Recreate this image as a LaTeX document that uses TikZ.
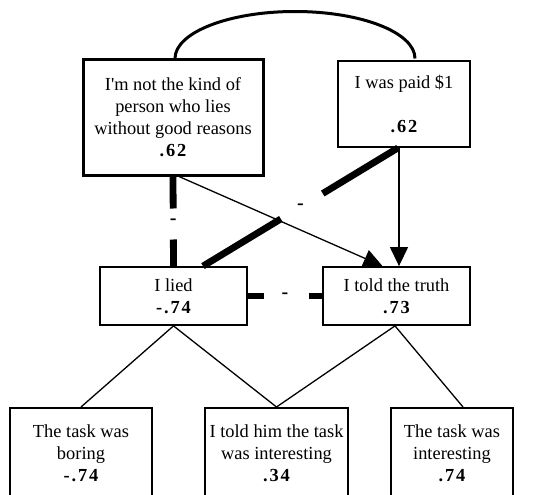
\documentclass[tikz,border=0pt]{standalone}
\usepackage{fontspec}
\setmainfont{Liberation Serif}
\usetikzlibrary{arrows.meta,calc}
\newcommand\numv[1]{{\bfseries\addfontfeature{LetterSpace=10}#1}}
\begin{document}
\begin{tikzpicture}[x=1pt,y=-1pt,
  box/.style={draw, rectangle, align=center, inner sep=0pt, font=\fontsize{18.4}{22}\selectfont},
  thick line/.style={line width=6.8pt},
  thin line/.style={line width=1.3pt},
  minus/.style={font=\fontsize{20}{20}\selectfont\bfseries, inner sep=0pt},
  arr/.style={-{Triangle[width=18pt,length=19pt]}}
]
\useasboundingbox (0,0) rectangle (549,495);
\clip (0,0) rectangle (549,495);
\node[box, line width=3pt, minimum width=180pt, minimum height=115pt] (A) at (173,117.5)
  {I\textquotesingle m not the kind of\\person who lies\\without good reasons\\\numv{.62}};
\node[box, line width=1.8pt, minimum width=132pt, minimum height=86pt] (B) at (404,104)
  {I was paid \$1\\[22pt]\numv{.62}};
\node[box, line width=1.8pt, minimum width=147pt, minimum height=58pt] (lied) at (173.5,296)
  {I lied\\\numv{-.74}};
\node[box, line width=1.8pt, minimum width=147pt, minimum height=58pt] (truth) at (396.5,296)
  {I told the truth\\\numv{.73}};
\node[box, line width=2pt, minimum width=142pt, minimum height=97pt] (boring) at (81,456.5)
  {};
\node[box, line width=2pt, minimum width=143pt, minimum height=97pt] (told) at (276.5,456.5)
  {};
\node[box, line width=2pt, minimum width=122pt, minimum height=97pt] (interesting) at (452,456.5)
  {};
\node[box, draw=none] (tb) at (81,453.5) {The task was\\boring\\\numv{-.74}};
\node[box, draw=none] (tt) at (276.5,453.5) {I told him the task\\was interesting\\\numv{.34}};
\node[box, draw=none] (ti) at (452,453.5) {The task was\\interesting\\\numv{.74}};
% arc between top boxes
\draw[line width=3pt] ($(A.north)+(2,0)$) arc[start angle=180,end angle=360,x radius=120,y radius=47];
% thick dashed vertical A -> lied
\draw[thick line, dash pattern=on 32pt off 31pt on 60pt] (A.south) -- (lied.north)
  node[midway, minus] {-};
% thick diagonal B -> lied with gap
\coordinate (b1) at ($(B.south)+(-6,0)$);
\coordinate (l1) at ($(lied.north)+(29.5,0)$);
\draw[thick line, dash pattern=on 88pt off 49pt on 100pt] (b1) -- (l1)
  node[midway, minus] {-};
% thick dashed horizontal lied -> truth
\draw[thick line, dash pattern=on 16pt off 45pt on 30pt] (lied.east) -- (truth.west)
  node[midway, minus] {-};
% thin arrows
\draw[thin line, arr] ($(A.south)+(6,0)$) -- ($(truth.north)+(-14,0)$);
\draw[thin line, arr] ($(B.south)+(-5,0)$) -- ($(truth.north)+(2.5,0)$);
% tree lines
\draw[thin line] (boring.north) -- (lied.south) -- (told.north);
\draw[thin line] (told.north) -- ($(truth.south)+(-1.5,0)$) -- ($(interesting.north)+(11,0)$);
\end{tikzpicture}
\end{document}
